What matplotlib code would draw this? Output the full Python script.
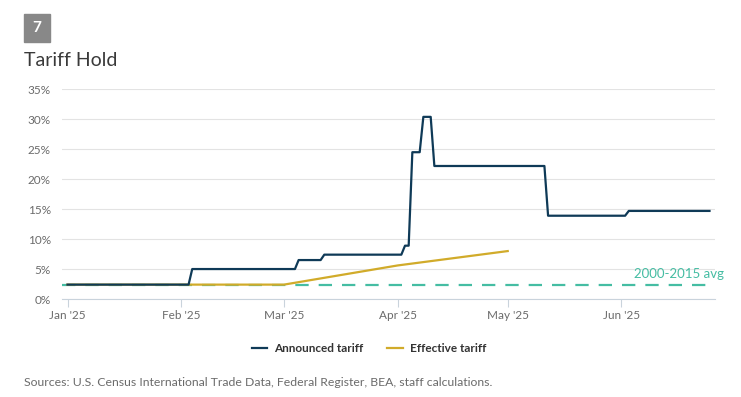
import pandas as pd
import matplotlib.pyplot as plt
from matplotlib.patches import Rectangle

plt.rcParams['font.family'] = ['Lato', 'DejaVu Sans']

# Données (%)
announced_dates = ["2025-01-01", "2025-02-03", "2025-02-04", "2025-03-04", "2025-03-05",
                   "2025-03-11", "2025-03-12", "2025-04-02", "2025-04-03", "2025-04-04",
                   "2025-04-05", "2025-04-07", "2025-04-08", "2025-04-10", "2025-04-11",
                   "2025-05-11", "2025-05-12", "2025-06-02", "2025-06-03", "2025-06-25"]
announced_vals = [2.4, 2.4, 5.0, 5.0, 6.5,
                  6.5, 7.4, 7.4, 8.9, 8.9,
                  24.5, 24.5, 30.4, 30.4, 22.2,
                  22.2, 13.9, 13.9, 14.7, 14.7]

effective_dates = ["2025-01-01", "2025-02-01", "2025-03-01", "2025-04-01", "2025-05-01"]
effective_vals = [2.4, 2.4, 2.4, 5.6, 8.0]

avg_2000_2015 = 2.4

tick_dates = ["2025-01-01", "2025-02-01", "2025-03-01", "2025-04-01", "2025-05-01", "2025-06-01"]
tick_labels = ["Jan '25", "Feb '25", "Mar '25", "Apr '25", "May '25", "Jun '25"]

navy = '#0f3a57'
gold = '#d1ab2a'
teal = '#45bda3'
grid_col = '#e3e3e3'
txt_gray = '#6b6b6b'

fig = plt.figure(figsize=(7.41, 3.97), dpi=100)
ax = fig.add_axes([62/741, 1 - 299/397, (715-62)/741, (299-89.3)/397])

x_ann = pd.to_datetime(announced_dates)
x_eff = pd.to_datetime(effective_dates)

ax.axhline(avg_2000_2015, color=teal, lw=1.6, dashes=(6, 4.5), zorder=2)
ax.plot(x_eff, effective_vals, color=gold, lw=1.6, label='Effective tariff', zorder=3)
ax.plot(x_ann, announced_vals, color=navy, lw=1.6, label='Announced tariff', zorder=4)

ax.set_xlim(pd.Timestamp("2025-01-01") - pd.Timedelta(days=1.5),
            pd.Timestamp("2025-01-01") + pd.Timedelta(days=176.5))
ax.set_ylim(0, 35)
ax.set_yticks(range(0, 36, 5))
ax.set_yticklabels([f"{v}%" for v in range(0, 36, 5)])
ax.set_xticks(pd.to_datetime(tick_dates))
ax.set_xticklabels(tick_labels)

ax.grid(axis='y', color=grid_col, lw=0.8)
ax.set_axisbelow(True)
for s in ['top', 'right', 'left']:
    ax.spines[s].set_visible(False)
ax.spines['bottom'].set_color('#c9d3dc')
ax.tick_params(axis='y', length=0, pad=8, labelsize=8.5, labelcolor=txt_gray)
ax.tick_params(axis='x', length=6, color='#c9d3dc', pad=2, labelsize=8.5, labelcolor=txt_gray)

# étiquette de la moyenne, alignée à droite vers x=724 px
ax.text((724 - 62) / (715 - 62), (avg_2000_2015 + 0.8) / 35, "2000-2015 avg",
        transform=ax.transAxes, ha='right', va='bottom', color=teal, fontsize=9.5,
        clip_on=False)

handles, labels = ax.get_legend_handles_labels()
leg = fig.legend(handles[::-1], labels[::-1], loc='center', bbox_to_anchor=(369/741, 1 - 349/397),
                 ncol=2, frameon=False, fontsize=8.5, handlelength=1.3, columnspacing=2.0,
                 handletextpad=0.6)
for t in leg.get_texts():
    t.set_color('#333333')
    t.set_fontweight('bold')

# Encadré numéro + titre
fig.patches.append(Rectangle((24/741, 1 - 42/397), 26/741, 28/397, transform=fig.transFigure,
                             color='#888888', zorder=1))
fig.text(37/741, 1 - 28/397, "7", color='white', fontsize=11, fontweight='bold',
         ha='center', va='center')
fig.text(24/741, 1 - 60/397, "Tariff Hold", color='#3a3a3a', fontsize=14, ha='left', va='center')
fig.text(24/741, 1 - 383/397,
         "Sources: U.S. Census International Trade Data, Federal Register, BEA, staff calculations.",
         color=txt_gray, fontsize=8.8, ha='left', va='center')

fig.savefig('out.png', dpi=100)
